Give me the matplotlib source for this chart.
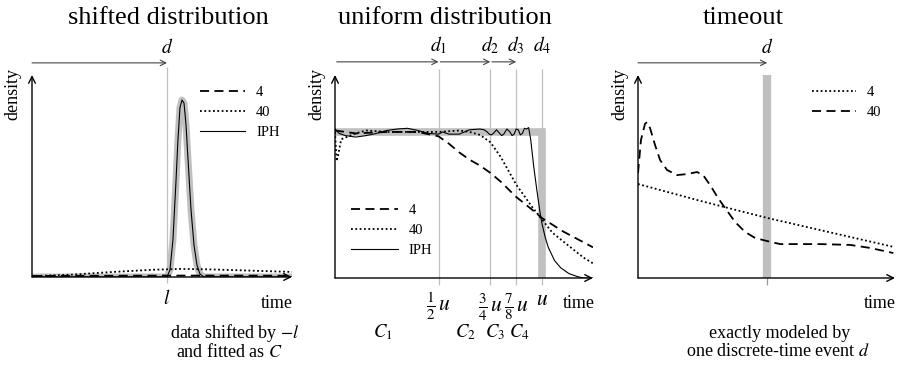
import matplotlib
matplotlib.use("Agg")
import matplotlib.pyplot as plt

plt.rcParams["font.family"] = ["Liberation Serif", "DejaVu Serif"]
plt.rcParams["mathtext.fontset"] = "stix"

W, H = 904, 366

# ---- panel 1: shifted distribution (time in units of l) ----
p1_xmax = 1.926
p1_l = 1.0
p1_peak_x = [0.0, 0.9, 1.0, 1.022, 1.044, 1.067, 1.081, 1.096, 1.111, 1.126, 1.141,
             1.156, 1.178, 1.2, 1.222, 1.244, 1.274, 1.4, 1.926]
p1_peak_y = [0.0, 0.0, 0.0, 0.035, 0.183, 0.48, 0.678, 0.837, 0.876, 0.861, 0.752,
             0.579, 0.332, 0.158, 0.059, 0.015, 0.0, 0.0, 0.0]
p1_fit4_x = [0.0, 0.5, 1.0, 1.5, 1.926]
p1_fit4_y = [0.005, 0.006, 0.007, 0.007, 0.006]
p1_fit40_x = [0.0, 0.3, 0.6, 0.9, 1.1, 1.3, 1.6, 1.926]
p1_fit40_y = [0.004, 0.012, 0.025, 0.036, 0.04, 0.038, 0.032, 0.025]

# ---- panel 2: uniform distribution (time in units of u) ----
p2_xmax = 1.246
p2_splits = [0.5, 0.75, 0.875, 1.0]
p2_split_labels = [r"$\frac{1}{2}\,u$", r"$\frac{3}{4}\,u$", r"$\frac{7}{8}\,u$", r"$u$"]
p2_d_labels = [r"$d_1$", r"$d_2$", r"$d_3$", r"$d_4$"]
p2_c_labels = [r"$C_1$", r"$C_2$", r"$C_3$", r"$C_4$"]
p2_c_pos = [0.23, 0.63, 0.775, 0.89]
p2_fit4_x = [0.0, 0.1, 0.25, 0.4, 0.5, 0.55, 0.6, 0.65, 0.7, 0.75, 0.8, 0.875,
             0.95, 1.0, 1.1, 1.246]
p2_fit4_y = [1.01, 0.99, 1.0, 1.0, 0.97, 0.92, 0.86, 0.81, 0.77, 0.72, 0.66, 0.555,
             0.47, 0.41, 0.32, 0.21]
p2_fit40_x = [0.0, 0.008, 0.015, 0.03, 0.1, 0.15, 0.25, 0.4, 0.5, 0.6, 0.65, 0.7,
              0.75, 0.8, 0.875, 0.95, 1.0, 1.05, 1.12, 1.2, 1.246]
p2_fit40_y = [1.0, 0.8, 0.84, 0.95, 0.99, 1.01, 1.0, 1.0, 1.0, 1.01, 1.0, 0.98,
              0.93, 0.83, 0.64, 0.49, 0.40, 0.31, 0.23, 0.14, 0.1]
p2_iph_x = [0.0, 0.02, 0.05, 0.1, 0.15, 0.2, 0.25, 0.3, 0.35, 0.4, 0.45, 0.5, 0.52,
            0.55, 0.6, 0.65, 0.7, 0.72, 0.735, 0.745, 0.755, 0.765, 0.78, 0.795,
            0.805, 0.815, 0.83, 0.845, 0.855, 0.865, 0.875, 0.885, 0.895, 0.905,
            0.915, 0.925, 0.935, 0.945, 0.96, 0.975, 0.99, 1.0, 1.015,
            1.03, 1.06, 1.09, 1.13, 1.17, 1.2, 1.246]
p2_iph_y = [1.02, 0.99, 0.975, 0.965, 0.975, 0.99, 1.01, 1.02, 1.025, 1.01, 0.99,
            0.985, 1.0, 0.985, 0.985, 1.015, 1.02, 1.015, 1.0, 0.985, 0.98, 0.99,
            1.015, 0.99, 0.975, 0.985, 1.02, 1.0, 0.975, 0.985, 1.02, 1.015, 0.98,
            0.99, 1.025, 1.02, 1.03, 0.95, 0.76, 0.6, 0.45, 0.37,
            0.28, 0.21, 0.12, 0.07, 0.03, 0.01, 0.0, 0.0]
p2_uniform_x = [0.0, 1.0, 1.0]
p2_uniform_y = [1.0, 1.0, 0.0]

# ---- panel 3: timeout (time in units of d) ----
p3_xmax = 1.99
p3_d = 1.0
p3_fit4_x = [0.0, 0.5, 1.0, 1.5, 1.98]
p3_fit4_y = [0.463, 0.377, 0.296, 0.223, 0.153]
p3_fit40_x = [0.0, 0.023, 0.054, 0.070, 0.093, 0.132, 0.171, 0.225, 0.302, 0.380,
              0.457, 0.504, 0.558, 0.620, 0.674, 0.752, 0.829, 0.907, 1.0, 1.101,
              1.256, 1.411, 1.643, 1.798, 1.977]
p3_fit40_y = [0.517, 0.680, 0.759, 0.768, 0.739, 0.655, 0.581, 0.532, 0.507, 0.512,
              0.522, 0.507, 0.458, 0.394, 0.345, 0.276, 0.227, 0.197, 0.182, 0.167,
              0.167, 0.167, 0.163, 0.148, 0.123]

GRAY = "#c0c0c0"
ARROWC = "#444444"
DASH = (0, (5, 3))
DOT = (0, (1, 1.4))


def axes_px(fig, left, right, bottom, top):
    return fig.add_axes([left / W, 1 - bottom / H, (right - left) / W, (bottom - top) / H])


def draw_axes(ax, xmax, ymax):
    ax.set_xlim(0, xmax)
    ax.set_ylim(0, ymax)
    ax.axis("off")
    kw = dict(arrowstyle="->", color="black", lw=1.0, mutation_scale=12,
              shrinkA=0, shrinkB=0)
    ax.annotate("", xy=(xmax, 0), xytext=(0, 0), arrowprops=kw, annotation_clip=False)
    ax.annotate("", xy=(0, ymax), xytext=(0, 0), arrowprops=kw, annotation_clip=False)


def top_arrow(ax, x0, x1, y):
    ax.annotate("", xy=(x1, y), xytext=(x0, y), annotation_clip=False,
                arrowprops=dict(arrowstyle="->", color=ARROWC, lw=0.8,
                                mutation_scale=10, shrinkA=0, shrinkB=0))


def legend(ax, fig, x, y, length):
    ax.legend(loc="upper left", bbox_to_anchor=(x / W, 1 - y / H),
              bbox_transform=fig.transFigure, frameon=False, fontsize=10.5,
              handlelength=length, handletextpad=0.75, labelspacing=0.45,
              borderpad=0, borderaxespad=0)


fig = plt.figure(figsize=(W / 100, H / 100), dpi=100)

# panel 1
ax1 = axes_px(fig, 32, 292, 277, 75)
ymax1 = 1.0
ytop1 = 1.06
ax1.vlines(p1_l, -0.03, ytop1 - 0.02, color=GRAY, lw=0.9, clip_on=False)
ax1.plot(p1_peak_x, p1_peak_y, color=GRAY, lw=5, solid_capstyle="butt")
ax1.plot(p1_fit4_x, p1_fit4_y, color="black", lw=1.3, ls=DASH, label="4")
ax1.plot(p1_fit40_x, p1_fit40_y, color="black", lw=1.3, ls=DOT, label="40")
ax1.plot(p1_peak_x, p1_peak_y, color="black", lw=0.8, label="IPH")
draw_axes(ax1, p1_xmax, ymax1)
top_arrow(ax1, 0, p1_l, ytop1)
ax1.text(p1_l, ytop1 + 0.03, r"$d$", ha="center", va="bottom", fontsize=14)
ax1.text(p1_l, -0.06, r"$l$", ha="center", va="top", fontsize=14)
legend(ax1, fig, 200, 86, 3.1)

# panel 2
ax2 = axes_px(fig, 335, 593, 278, 75)
ymax2 = 1.39
ytop2 = 1.48
ax2.vlines(p2_splits, -0.045, ytop2 - 0.05, color=GRAY, lw=0.9, clip_on=False)
ax2.plot(p2_uniform_x, p2_uniform_y, color=GRAY, lw=5.5, solid_joinstyle="miter")
ax2.plot(p2_fit4_x, p2_fit4_y, color="black", lw=1.3, ls=DASH, label="4")
ax2.plot(p2_fit40_x, p2_fit40_y, color="black", lw=1.3, ls=DOT, label="40")
ax2.plot(p2_iph_x, p2_iph_y, color="black", lw=0.8, label="IPH")
draw_axes(ax2, p2_xmax, ymax2)
starts = [0.0] + p2_splits[:-1]
for a, b in zip(starts[:-1], p2_splits[:-1]):
    top_arrow(ax2, a + 0.008, b, ytop2)
for xs, dl, tl in zip(p2_splits, p2_d_labels, p2_split_labels):
    ax2.text(xs, ytop2 + 0.04, dl, ha="center", va="bottom", fontsize=14)
    ax2.text(xs, -0.09, tl, ha="center", va="top", fontsize=15.5)
for xc, cl in zip(p2_c_pos, p2_c_labels):
    ax2.text(xc, -0.3, cl, ha="center", va="top", fontsize=13.5)
legend(ax2, fig, 351, 204, 3.2)

# panel 3
ax3 = axes_px(fig, 638, 895, 278, 75)
ymax3 = 1.0
ytop3 = 1.06
ax3.vlines(p3_d, 0, 1.015, color=GRAY, lw=6)
ax3.vlines(p3_d, -0.035, 0, color="#999999", lw=0.9, clip_on=False)
ax3.plot(p3_fit4_x, p3_fit4_y, color="black", lw=1.3, ls=DOT, label="4")
ax3.plot(p3_fit40_x, p3_fit40_y, color="black", lw=1.3, ls=DASH, label="40")
draw_axes(ax3, p3_xmax, ymax3)
top_arrow(ax3, 0, p3_d, ytop3)
ax3.text(p3_d, ytop3 + 0.03, r"$d$", ha="center", va="bottom", fontsize=14)
legend(ax3, fig, 812, 86, 3.0)

# titles, axis names, captions
tkw = dict(ha="center", va="center", fontsize=19)
fig.text(168 / W, 1 - 18 / H, "shifted distribution", **tkw)
fig.text(445 / W, 1 - 18 / H, "uniform distribution", **tkw)
fig.text(743 / W, 1 - 18 / H, "timeout", **tkw)
for xp in (13, 317, 620):
    fig.text(xp / W, 1 - 94 / H, "density", rotation=90, ha="center", va="center",
             fontsize=13)
for xp in (277, 579, 880):
    fig.text(xp / W, 1 - 303 / H, "time", ha="center", va="center", fontsize=13)
ckw = dict(ha="center", va="center", fontsize=13)
fig.text(235 / W, 1 - 333 / H, r"data shifted by $-l$", **ckw)
fig.text(229 / W, 1 - 352 / H, r"and fitted as $C$", **ckw)
fig.text(780 / W, 1 - 333 / H, "exactly modeled by", **ckw)
fig.text(778 / W, 1 - 352 / H, r"one discrete-time event $d$", **ckw)

fig.savefig("out.png", dpi=100)
